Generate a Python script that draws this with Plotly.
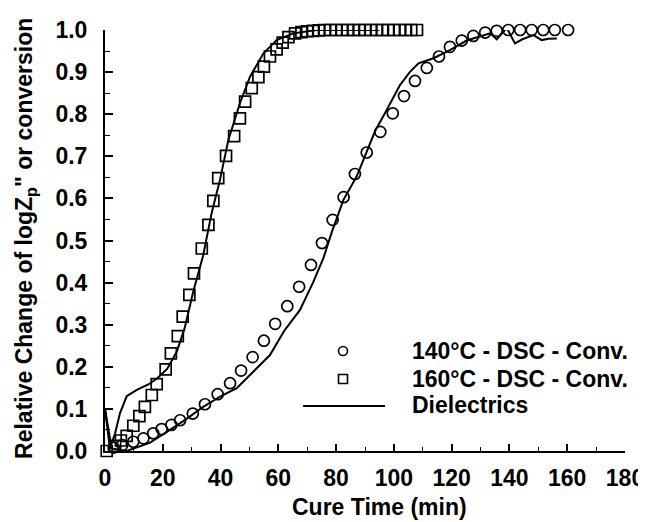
import plotly.graph_objects as go

# 140°C DSC conversion (circles)
t140 = [3, 6, 9.8, 13.3, 16.7, 19.6, 23, 26, 30.4, 34.6, 39, 43.3, 47.1, 51.1, 55, 58.9, 63.1,
        67.2, 71.3, 75.1, 78.8, 82.6, 86.5, 90.6, 95.3, 99.6, 103.5, 107.3, 111.4, 115.6, 119.4,
        123.5, 127.5, 131.6, 135.6, 139.6, 143.7, 147.7, 151.7, 155.7, 160.3]
c140 = [0.008, 0.014, 0.022, 0.03, 0.042, 0.052, 0.062, 0.073, 0.089, 0.111, 0.135, 0.161, 0.191,
        0.223, 0.262, 0.302, 0.344, 0.39, 0.442, 0.494, 0.549, 0.603, 0.658, 0.709, 0.758, 0.802,
        0.843, 0.879, 0.910, 0.937, 0.960, 0.975, 0.986, 0.994, 0.998, 1.0, 1.0, 1.0, 1.0, 1.0, 1.0]

# 160°C DSC conversion (squares)
t160 = [0.6, 3.5, 5.5, 7.5, 9.8, 11.9, 13.8, 16.2, 17.9, 21, 22.8, 25.2, 26.9, 29.2, 30.8, 33.5,
        35.8, 37.5, 39.2, 41.9, 44.7, 46.7, 48.5, 50.8, 53.1, 55, 57.1, 59.4, 61.5, 63.5, 65.8,
        68, 70, 72, 74, 76, 78, 80, 82, 84, 86, 88, 90, 92, 94, 96, 98, 100, 102, 104, 106, 108]
c160 = [0.0, 0.012, 0.025, 0.036, 0.06, 0.083, 0.105, 0.133, 0.159, 0.194, 0.232, 0.273, 0.319,
        0.371, 0.422, 0.481, 0.537, 0.594, 0.648, 0.701, 0.748, 0.79, 0.83, 0.862, 0.888, 0.913,
        0.937, 0.954, 0.970, 0.983, 0.992, 0.995, 0.997, 0.998, 0.999, 1.0, 1.0, 1.0, 1.0, 1.0,
        1.0, 1.0, 1.0, 1.0, 1.0, 1.0, 1.0, 1.0, 1.0, 1.0, 1.0, 1.0]

# Dielectric curves (solid lines)
td160 = [0, 1.7, 3.5, 5.2, 7.5, 11, 15, 18, 21.5, 24.8, 27.5, 30.6, 34, 36.9, 39.8, 42.7, 46.7,
         50.2, 54.8, 59.4, 65.2, 73.3, 85, 95]
d160 = [0.10, 0.006, 0.042, 0.09, 0.13, 0.145, 0.158, 0.172, 0.195, 0.235, 0.29, 0.38, 0.465,
        0.565, 0.644, 0.739, 0.826, 0.889, 0.944, 0.976, 0.992, 1.0, 1.0, 1.0]

td140 = [0, 2.3, 7.5, 15.6, 22.5, 28, 34, 40, 45.6, 51, 57.1, 62, 67.5, 72, 75.6, 78.5, 82.5,
         87.1, 90.6, 93.5, 97.5, 102.1, 105.5, 108.5, 113.7, 119.4, 125.2, 130.4, 133.3, 135.6,
         139.1, 141.9, 144.5, 148.3, 151.2, 153.5, 156.4]
d140 = [0.10, 0.006, 0.0, 0.02, 0.05, 0.075, 0.105, 0.13, 0.149, 0.185, 0.228, 0.285, 0.335,
        0.40, 0.458, 0.52, 0.596, 0.652, 0.709, 0.76, 0.81, 0.869, 0.90, 0.921, 0.933, 0.952,
        0.975, 0.986, 0.992, 0.978, 1.005, 0.968, 0.978, 0.988, 0.976, 0.979, 0.98]

legend_labels = ["140°C - DSC - Conv.", "160°C - DSC - Conv.", "Dielectrics"]

FONT = "Liberation Sans, Arial, Helvetica, sans-serif"

fig = go.Figure()
fig.add_trace(go.Scatter(x=td160, y=d160, mode="lines", line=dict(color="black", width=2),
                         showlegend=False, cliponaxis=False))
fig.add_trace(go.Scatter(x=td140, y=d140, mode="lines", line=dict(color="black", width=2),
                         showlegend=False, cliponaxis=False))
fig.add_trace(go.Scatter(x=t140, y=c140, mode="markers", showlegend=False, cliponaxis=False,
                         marker=dict(symbol="circle-open", size=11, color="black",
                                     line=dict(width=1.7, color="black"))))
fig.add_trace(go.Scatter(x=t160, y=c160, mode="markers", showlegend=False, cliponaxis=False,
                         marker=dict(symbol="square-open", size=11, color="black",
                                     line=dict(width=1.7, color="black"))))

tickfont = dict(family=FONT, size=23, color="black", weight="bold")

fig.update_xaxes(range=[0, 180], tickmode="linear", tick0=0, dtick=20, automargin=False,
                 showline=True, linecolor="black", linewidth=2, showgrid=False, zeroline=False,
                 ticks="inside", ticklen=7, tickwidth=1.5, tickcolor="black",
                 ticklabelstandoff=5, tickfont=tickfont,
                 minor=dict(ticks="inside", dtick=10, ticklen=4, tickwidth=1.2, tickcolor="black"))
fig.update_yaxes(range=[0, 1.0], tickmode="linear", tick0=0, dtick=0.1, tickformat=".1f",
                 automargin=False,
                 showline=True, linecolor="black", linewidth=2, showgrid=False, zeroline=False,
                 ticks="inside", ticklen=8, tickwidth=1.5, tickcolor="black",
                 ticklabelstandoff=11, tickfont=tickfont,
                 minor=dict(ticks="inside", dtick=0.05, ticklen=5, tickwidth=1.2, tickcolor="black"))

titlefont = dict(family=FONT, size=23, color="black", weight="bold")
annotations = [
    dict(text="Cure Time (min)", xref="paper", yref="paper", x=0.527, y=-0.133,
         showarrow=False, font=titlefont, xanchor="center", yanchor="middle"),
    dict(text='Relative Change of logZ<sub>p</sub>" or conversion', xref="paper", yref="paper",
         x=-0.152, y=0.506, textangle=-90, showarrow=False, font=titlefont,
         xanchor="center", yanchor="middle"),
]
legend_y = [0.2375, 0.171, 0.109]
for lab, yy in zip(legend_labels, legend_y):
    annotations.append(dict(text=lab, xref="paper", yref="paper", x=0.586, y=yy,
                            showarrow=False, font=titlefont, xanchor="left", yanchor="middle"))

shapes = [
    dict(type="circle", xref="paper", yref="paper", xsizemode="pixel", ysizemode="pixel",
         xanchor=0.4577, yanchor=legend_y[0], x0=-4.5, x1=4.5, y0=-4.5, y1=4.5,
         line=dict(color="black", width=1.6)),
    dict(type="rect", xref="paper", yref="paper", xsizemode="pixel", ysizemode="pixel",
         xanchor=0.4577, yanchor=legend_y[1], x0=-4.5, x1=4.5, y0=-4.5, y1=4.5,
         line=dict(color="black", width=1.6)),
    dict(type="line", xref="paper", yref="paper", x0=0.381, x1=0.5385, y0=0.107, y1=0.107,
         line=dict(color="black", width=2)),
]

# The page body adds an 8px offset, so the figure is sized to fit the 646x522 window.
fig.update_layout(width=638, height=514, margin=dict(l=97, r=21, t=22, b=71),
                  plot_bgcolor="white", paper_bgcolor="white", showlegend=False,
                  annotations=annotations, shapes=shapes)

fig.write_html("out.html")
